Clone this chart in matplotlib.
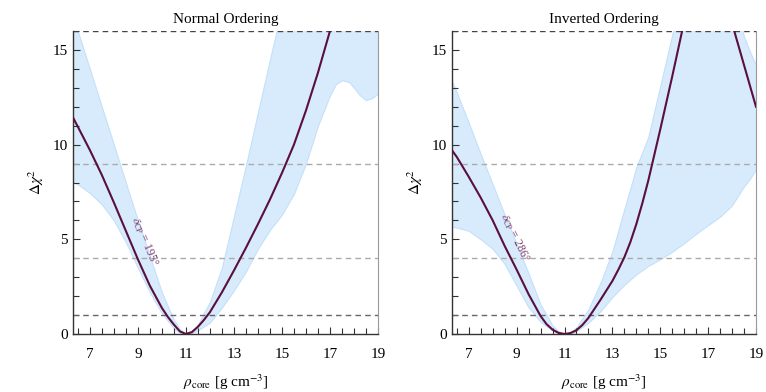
import numpy as np
import matplotlib
matplotlib.use("Agg")
import matplotlib.pyplot as plt
from matplotlib.ticker import FixedLocator, MultipleLocator

plt.rcParams['font.family'] = ['Liberation Serif', 'DejaVu Serif']
plt.rcParams['mathtext.fontset'] = 'stix'

# ---------------- data ----------------
# Normal ordering
no_curve_x = [6.3, 6.5, 7.0, 7.5, 8.0, 8.5, 9.0, 9.5, 10.0, 10.25, 10.5, 10.75, 11.0, 11.25, 11.5,
              11.75, 12.0, 12.5, 13.0, 13.5, 14.0, 14.5, 15.0, 15.5, 16.0, 16.5, 17.0, 17.5]
no_curve_y = [11.43, 10.95, 9.72, 8.4, 6.95, 5.45, 3.95, 2.55, 1.38, 0.9, 0.5, 0.14, 0.0, 0.1, 0.38,
              0.74, 1.15, 2.2, 3.35, 4.55, 5.8, 7.1, 8.5, 10.0, 11.8, 13.8, 16.0, 18.2]

no_band_x = [6.3, 6.5, 7.0, 7.5, 8.0, 8.5, 9.0, 9.5, 10.0, 10.5, 10.75, 11.0, 11.25, 11.5, 12.0,
             12.5, 13.0, 13.5, 14.0, 14.5, 15.0, 15.5, 16.0, 16.5, 17.0, 17.25, 17.5, 17.8, 18.0,
             18.25, 18.5, 18.75, 19.0]
no_band_lo = [8.05, 7.9, 7.45, 6.85, 6.0, 4.85, 3.5, 2.2, 1.1, 0.3, 0.07, 0.0, 0.05, 0.2, 0.6,
              1.4, 2.3, 3.3, 4.5, 5.5, 6.3, 7.4, 9.0, 11.0, 12.6, 13.2, 13.4, 13.3, 13.0,
              12.6, 12.35, 12.45, 12.7]
no_band_hi = [16.7, 16.0, 14.0, 12.0, 10.0, 8.0, 6.0, 4.1, 2.2, 0.75, 0.25, 0.0, 0.15, 0.5, 1.7,
              3.5, 6.2, 8.9, 11.7, 14.5, 17.2, 19.0, 20.0, 20.0, 20.0, 20.0, 20.0, 20.0, 20.0,
              20.0, 20.0, 20.0, 20.0]

# Inverted ordering
io_curve_x = [6.3, 6.5, 7.0, 7.5, 8.0, 8.5, 9.0, 9.5, 10.0, 10.25, 10.5, 10.75, 11.0, 11.25, 11.5,
              11.75, 12.0, 12.5, 13.0, 13.25, 13.5, 13.75, 14.0, 14.25, 14.5, 15.0, 15.5, 16.0,
              16.5, 17.0, 17.5, 18.0, 18.5, 19.0]
io_curve_y = [9.7, 9.35, 8.3, 7.2, 6.0, 4.65, 3.4, 2.1, 0.95, 0.52, 0.23, 0.06, 0.0, 0.05, 0.2,
              0.48, 0.85, 1.8, 2.8, 3.4, 4.05, 4.85, 5.8, 6.9, 8.1, 10.8, 13.6, 16.5,
              18.5, 19.5, 18.8, 16.4, 14.2, 12.0]

io_band_x = [6.3, 6.5, 7.0, 7.5, 8.0, 8.5, 9.0, 9.5, 10.0, 10.5, 10.75, 11.0, 11.25, 11.5, 12.0,
             12.5, 13.0, 13.5, 14.0, 14.5, 15.0, 15.5, 16.0, 16.5, 17.0, 17.5, 18.0, 18.5, 18.75, 19.0]
io_band_lo = [5.65, 5.62, 5.45, 5.0, 4.5, 3.7, 2.55, 1.4, 0.65, 0.18, 0.05, 0.0, 0.04, 0.15, 0.6,
              1.2, 1.95, 2.6, 3.15, 3.6, 3.95, 4.35, 4.8, 5.3, 5.75, 6.2, 6.8, 7.8, 8.2, 8.7]
io_band_hi = [13.35, 12.75, 11.15, 9.5, 7.9, 6.3, 4.75, 3.2, 1.55, 0.45, 0.14, 0.0, 0.1, 0.35, 1.3,
              2.7, 4.35, 6.6, 8.8, 10.4, 13.1, 15.8, 18.5, 20.0, 20.0, 20.0, 18.0, 15.7, 14.9, 14.2]

panels = [
    dict(title="Normal Ordering", cx=no_curve_x, cy=no_curve_y, bx=no_band_x,
         blo=no_band_lo, bhi=no_band_hi, label=r"$\delta_{\rm CP}$ = 195°",
         lx=9.28, ly=4.9, rot=-67),
    dict(title="Inverted Ordering", cx=io_curve_x, cy=io_curve_y, bx=io_band_x,
         blo=io_band_lo, bhi=io_band_hi, label=r"$\delta_{\rm CP}$ = 286°",
         lx=8.9, ly=5.1, rot=-64),
]

sigma_levels = [1, 4, 9, 16]
sigma_colors = ['#666666', '#aaaaaa', '#aaaaaa', '#444444']

fig = plt.figure(figsize=(7.66, 3.92), dpi=100)
positions = [[73/766, 1-334/392, 305/766, 303/392], [452/766, 1-334/392, 304/766, 303/392]]

line_color = '#5a0f3e'
band_face = '#d8ebfc'
band_edge = '#c4e0f9'

for pos, p in zip(positions, panels):
    ax = fig.add_axes(pos)
    ax.fill_between(p['bx'], p['blo'], p['bhi'], facecolor=band_face, edgecolor=band_edge,
                    linewidth=0.8, zorder=1)
    for lev, col in zip(sigma_levels, sigma_colors):
        ax.axhline(lev, color=col, linestyle=(0, (4, 3)), linewidth=1.0, zorder=2)
    ax.plot(p['cx'], p['cy'], color=line_color, linewidth=1.5, zorder=3,
            solid_joinstyle='round')
    ax.text(p['lx'], p['ly'], p['label'], rotation=p['rot'], rotation_mode='anchor',
            ha='center', va='center', fontsize=8.5, color='#7a3a6c', zorder=4)
    ax.set_xlim(6.3, 19)
    ax.set_ylim(0, 16)
    ax.xaxis.set_major_locator(FixedLocator([7, 9, 11, 13, 15, 17, 19]))
    ax.xaxis.set_minor_locator(MultipleLocator(0.5))
    ax.yaxis.set_major_locator(FixedLocator([0, 5, 10, 15]))
    ax.yaxis.set_minor_locator(MultipleLocator(1))
    ax.tick_params(which='both', direction='in', top=False, right=False,
                   labelsize=11, color='#333333')
    ax.tick_params(which='major', length=5, width=0.8)
    ax.tick_params(which='minor', length=4, width=0.8)
    ax.tick_params(axis='x', which='major', pad=10)
    for s in ['left', 'bottom']:
        ax.spines[s].set_color('#333333')
        ax.spines[s].set_linewidth(1.0)
    ax.spines['right'].set_color('#999999')
    ax.spines['right'].set_linewidth(0.8)
    ax.spines['top'].set_visible(False)
    ax.set_title(p['title'], fontsize=11, pad=6)
    ax.set_xlabel(r"$\rho_{\rm core}$ [g cm$^{-3}$]", fontsize=11, labelpad=8)
    ax.set_ylabel(r"$\Delta\chi^2$", fontsize=11, labelpad=5)

fig.savefig("out.png", dpi=100)
